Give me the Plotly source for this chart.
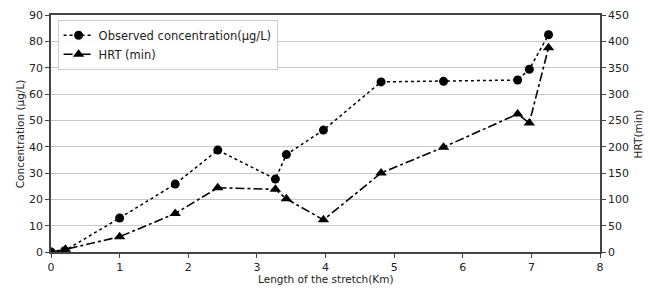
import plotly.graph_objects as go

distance_km = [0, 0.2, 1.0, 1.81, 2.43, 3.27, 3.43, 3.97, 4.81, 5.72, 6.80, 6.97, 7.25]
concentration = [0, 0.5, 12.9, 25.8, 38.7, 27.7, 37.0, 46.3, 64.6, 64.8, 65.3, 69.4, 82.5]
hrt_km = [0, 0.21, 1.0, 1.81, 2.43, 3.27, 3.43, 3.97, 4.81, 5.72, 6.80, 6.97, 7.25]
hrt_min = [0, 5, 29, 73, 122, 119, 101, 61, 150, 199, 262, 245, 388]

left_ticks = [0, 10, 20, 30, 40, 50, 60, 70, 80, 90]
right_ticks = [0, 50, 100, 150, 200, 250, 300, 350, 400, 450]
x_ticks = [0, 1, 2, 3, 4, 5, 6, 7, 8]

FONT = "DejaVu Sans"
AX = "#444444"
TXT = "#222222"

fig = go.Figure()
fig.add_trace(go.Scatter(
    x=distance_km, y=concentration, name="Observed concentration(µg/L)",
    mode="lines+markers", line=dict(color="black", dash="dot", width=1.5),
    marker=dict(symbol="circle", size=9, color="black"), yaxis="y"))
fig.add_trace(go.Scatter(
    x=hrt_km, y=hrt_min, name="HRT (min)",
    mode="lines+markers", line=dict(color="black", dash="dashdot", width=1.6),
    marker=dict(symbol="triangle-up", size=10, color="black"), yaxis="y2"))

fig.update_layout(
    width=650, height=294,
    margin=dict(l=51, r=50, t=15, b=42, autoexpand=False),
    paper_bgcolor="white", plot_bgcolor="white",
    font=dict(family=FONT, size=11, color=TXT),
    showlegend=True,
    legend=dict(x=0.012, y=0.98, xanchor="left", yanchor="top",
                bgcolor="rgba(255,255,255,0.85)", bordercolor="#cccccc", borderwidth=1,
                font=dict(family=FONT, size=11.5, color=TXT), tracegroupgap=0,
                itemwidth=30),
    xaxis=dict(range=[0, 8], tickvals=x_ticks, showgrid=False, zeroline=False,
               showline=True, linecolor=AX, linewidth=1.5, mirror=True,
               ticks="outside", ticklen=4, tickcolor=AX, automargin=False,
               tickfont=dict(size=11, family=FONT)),
    yaxis=dict(range=[0, 90], tickvals=left_ticks, showgrid=True, gridcolor="#c8c8c8", gridwidth=1.2,
               zeroline=False, showline=True, linecolor=AX, linewidth=1.5,
               ticks="outside", ticklen=4, tickcolor=AX, automargin=False,
               tickfont=dict(size=11, family=FONT)),
    yaxis2=dict(range=[0, 450], tickvals=right_ticks, overlaying="y", side="right",
                showgrid=False, zeroline=False, showline=True, linecolor=AX, linewidth=1.5,
                ticks="outside", ticklen=4, tickcolor=AX, automargin=False,
                tickfont=dict(size=11, family=FONT)),
    annotations=[
        dict(text="Length of the stretch(Km)", xref="paper", yref="paper", x=0.5, y=-0.112,
             xanchor="center", yanchor="middle", showarrow=False,
             font=dict(size=10.5, family=FONT, color=TXT)),
        dict(text="Concentration (µg/L)", xref="paper", yref="paper", x=-0.057, y=0.5,
             xanchor="center", yanchor="middle", showarrow=False, textangle=-90,
             font=dict(size=10.5, family=FONT, color=TXT)),
        dict(text="HRT(min)", xref="paper", yref="paper", x=1.069, y=0.5,
             xanchor="center", yanchor="middle", showarrow=False, textangle=-90,
             font=dict(size=10.5, family=FONT, color=TXT)),
    ],
)

fig.write_html("out.html", config={"displayModeBar": False},
               post_script="document.body.style.margin='0';")
